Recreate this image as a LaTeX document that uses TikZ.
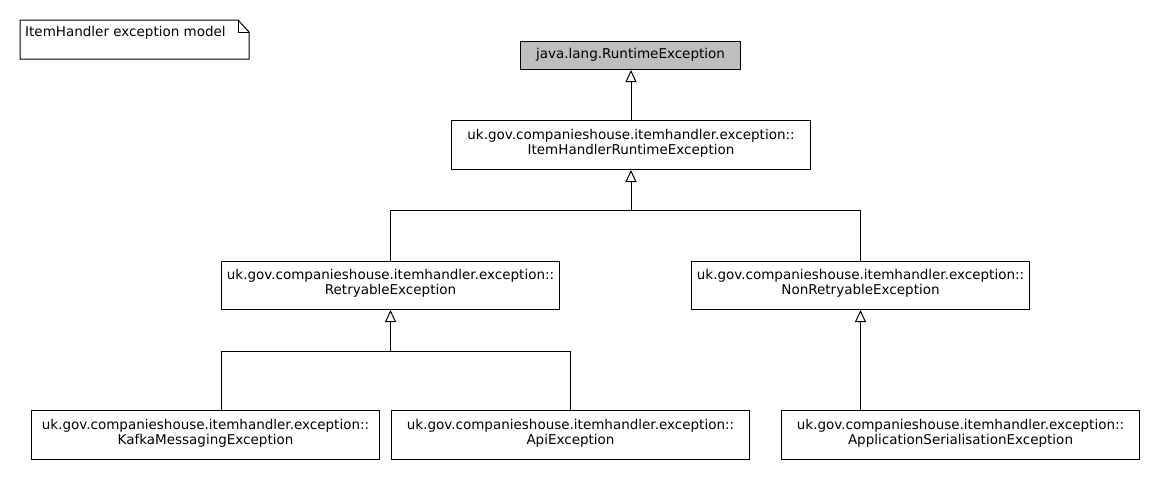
\documentclass[tikz,border=0pt]{standalone}
\usepackage{fontspec}
\setmainfont{DejaVu Sans}
\usetikzlibrary{arrows.meta}
\definecolor{rtgray}{RGB}{190,190,190}
\tikzset{
  box/.style={draw=black, line width=1pt, fill=white, inner sep=0pt, anchor=north west},
  txt/.style={align=center, font=\fontsize{13.5}{15}\selectfont, inner sep=0pt},
  inh/.style={draw=black, line width=1pt, -{Triangle[open, width=11pt, length=12pt, line width=1pt]}},
  plainline/.style={draw=black, line width=1pt},
}
\begin{document}
\begin{tikzpicture}[x=1pt, y=-1pt]
\useasboundingbox (0,0) rectangle (1160,480);
% note
\draw[line width=1pt, fill=white] (20,20) -- (238,20) -- (249,32) -- (249,59) -- (20,59) -- cycle;
\draw[line width=1pt] (238,20) -- (238,32) -- (249,32);
\node[txt, anchor=west] (note) at (25,33) {ItemHandler exception model};
% boxes
\node[box, fill=rtgray, minimum width=220pt, minimum height=28pt,
  label={[txt, yshift=1pt]center:java.lang.RuntimeException}] (rt) at (520,41) {};
\node[box, minimum width=359pt, minimum height=49pt,
  label={[txt, yshift=2pt]center:uk.gov.companieshouse.itemhandler.exception::\\ItemHandlerRuntimeException}] (item) at (451,120) {};
\node[box, minimum width=338pt, minimum height=48pt,
  label={[txt, yshift=2pt]center:uk.gov.companieshouse.itemhandler.exception::\\RetryableException}] (retry) at (221,261) {};
\node[box, minimum width=338pt, minimum height=48pt,
  label={[txt, yshift=2pt]center:uk.gov.companieshouse.itemhandler.exception::\\NonRetryableException}] (nonretry) at (691,261) {};
\node[box, minimum width=348pt, minimum height=49pt,
  label={[txt, yshift=2pt]center:uk.gov.companieshouse.itemhandler.exception::\\KafkaMessagingException}] (kafka) at (31,410) {};
\node[box, minimum width=358pt, minimum height=49pt,
  label={[txt, yshift=2pt]center:uk.gov.companieshouse.itemhandler.exception::\\ApiException}] (api) at (391,410) {};
\node[box, minimum width=358pt, minimum height=49pt,
  label={[txt, yshift=2pt]center:uk.gov.companieshouse.itemhandler.exception::\\ApplicationSerialisationException}] (appser) at (781,410) {};
% junctions
\coordinate (j1) at (item.south |- 0,210);
\coordinate (j2) at (retry.south |- 0,351);
% connectors
\draw[inh] (item.north) -- (item.north |- rt.south);
\draw[inh] (retry.north) -- (retry.north |- j1) -- (j1) -- (item.south);
\draw[plainline] (nonretry.north) -- (nonretry.north |- j1) -- (j1);
\draw[inh] (api.north) -- (api.north |- j2) -- (j2) -- (retry.south);
\draw[plainline] (retry.west |- kafka.north) -- (retry.west |- j2) -- (j2);
\draw[inh] (nonretry.south |- appser.north) -- (nonretry.south);
\end{tikzpicture}
\end{document}
